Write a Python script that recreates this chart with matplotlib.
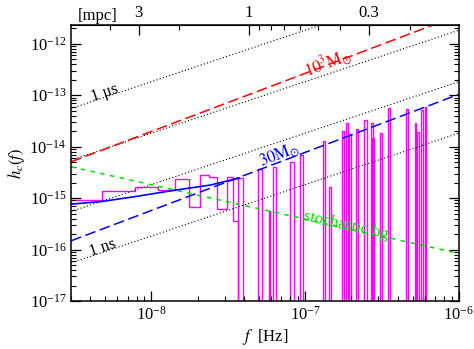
import numpy as np
import matplotlib
matplotlib.use('Agg')
import matplotlib.pyplot as plt
from matplotlib.ticker import LogLocator, NullFormatter

plt.rcParams['font.family'] = ['Liberation Serif', 'DejaVu Serif']
plt.rcParams['mathtext.fontset'] = 'stix'
plt.rcParams['font.size'] = 12

# frequency range of the straight reference lines
f_line = [3e-9, 1e-6]

# timing residual lines: 1 us, 100 ns, 10 ns, 1 ns
h_1us = [5.5e-14, 1.83e-11]
h_100ns = [5.5e-15, 1.83e-12]
h_10ns = [5.5e-16, 1.83e-13]
h_1ns = [5.5e-17, 1.83e-14]

# single binary amplitudes
h_1000msun = [5.07e-15, 3.57e-12]
h_30msun = [1.48e-16, 1.04e-13]

# stochastic background
h_bg = [4.06e-15, 8.4e-17]

# low-frequency upper limit (step histogram)
step_edges = [2.5e-9, 4.75e-9, 7.83e-9, 1.106e-8, 1.43e-8, 1.754e-8, 2.066e-8,
              2.366e-8, 2.68e-8, 3.11e-8, 3.39e-8, 3.68e-8]
step_h = [9.0e-16, 1.40e-15, 1.61e-15, 1.43e-15, 2.37e-15, 6.8e-16, 2.76e-15,
          2.52e-15, 6.1e-16, 2.52e-15, 3.57e-16]

# narrow frequency bins with limits
bar_lo = [3.68e-8, 4.91e-8, 5.78e-8, 6.14e-8, 8.01e-8, 9.21e-8, 1.30e-7, 1.42e-7,
          1.75e-7, 1.84e-7, 1.94e-7, 2.15e-7, 2.43e-7, 2.67e-7, 2.73e-7, 3.06e-7,
          3.47e-7, 4.56e-7, 5.16e-7, 5.36e-7, 5.69e-7, 5.98e-7]
bar_hi = [3.97e-8, 5.24e-8, 5.93e-8, 6.49e-8, 8.42e-8, 9.69e-8, 1.35e-7, 1.48e-7,
          1.80e-7, 1.89e-7, 2.00e-7, 2.21e-7, 2.51e-7, 2.75e-7, 2.81e-7, 3.15e-7,
          3.59e-7, 4.70e-7, 5.30e-7, 5.48e-7, 5.86e-7, 6.16e-7]
bar_h = [2.42e-15, 3.6e-15, 5.6e-16, 4.0e-15, 5.07e-15, 6.84e-15, 1.26e-14, 1.66e-15,
         2.0e-14, 2.9e-14, 1.75e-14, 2.19e-14, 3.27e-14, 2.82e-14, 1.48e-14, 1.85e-14,
         5.66e-14, 5.34e-14, 2.82e-14, 1.89e-14, 5.1e-14, 5.9e-14]

# blue solid curve
f_fit = [3.0e-9, 4.7e-9, 7.83e-9, 1.43e-8, 2.41e-8, 3.72e-8]
h_fit = [7.64e-16, 8.55e-16, 1.07e-15, 1.43e-15, 1.79e-15, 2.45e-15]

# top axis: orbital separation in mpc
f_1mpc = 4.29e-8
sep_major = [3, 1, 0.3]
sep_minor = [4, 2, 0.9, 0.8, 0.7, 0.6, 0.5, 0.4, 0.2]

fig = plt.figure(figsize=(4.74, 3.49), dpi=100)
ax = fig.add_axes([0.150, 0.1375, 0.818, 0.7905])

dot = (0, (1, 2))
for h in (h_1us, h_100ns, h_10ns, h_1ns):
    ax.plot(f_line, h, color='black', lw=0.8, ls=dot)

ax.plot(f_line, h_1000msun, color='red', lw=1.1, ls=(0, (7, 3)))
ax.plot(f_line, h_30msun, color='blue', lw=1.1, ls=(0, (7, 3)))
ax.plot(f_line, h_bg, color='#00e000', lw=1.1, ls=(0, (3, 3.5)))

ax.stairs(step_h, step_edges, baseline=1e-20, color='magenta', lw=1.0)
widths = np.array(bar_hi) - np.array(bar_lo)
ax.bar(bar_lo, np.array(bar_h) - 1e-20, width=widths, bottom=1e-20, align='edge',
       facecolor='none', edgecolor='magenta', lw=1.0)

ax.plot(f_fit, h_fit, color='blue', lw=1.2)

ax.set_xscale('log')
ax.set_yscale('log')
ax.set_xlim(3e-9, 1e-6)
ax.set_ylim(1e-17, 2.3e-12)

ax.text(4.99e-9, 1.09e-13, '1 \u03bcs', rotation=18.5, ha='center', va='center',
        rotation_mode='anchor')
ax.text(4.78e-9, 1.07e-16, '1 ns', rotation=18.5, ha='center', va='center',
        rotation_mode='anchor')
ax.text(1.40e-7, 4.38e-13, r'$10^3\mathrm{M}_{\odot}$', color='red', rotation=20.7,
        ha='center', va='center', rotation_mode='anchor')
ax.text(6.79e-8, 6.84e-15, r'$30\mathrm{M}_{\odot}$', color='blue', rotation=20.7,
        ha='center', va='center', rotation_mode='anchor')
ax.text(1.91e-7, 2.86e-16, 'stochastic bg.', color='#00e000', rotation=-12.6,
        ha='center', va='center', rotation_mode='anchor')

ax.set_xlabel(r'$f$  [Hz]', labelpad=2)
ax.set_ylabel(r'$h_c(f)$', labelpad=2)

ax.yaxis.set_major_locator(LogLocator(base=10, numticks=12))
ax.yaxis.set_minor_locator(LogLocator(base=10, subs=np.arange(2, 10), numticks=12))
ax.yaxis.set_minor_formatter(NullFormatter())
ax.xaxis.set_minor_formatter(NullFormatter())
ax.tick_params(which='both', direction='in', top=False, right=True)
ax.tick_params(which='major', length=7, width=0.9)
ax.tick_params(which='minor', length=3.5, width=0.8)
for s in ax.spines.values():
    s.set_linewidth(1.1)


def f2a(f):
    f = np.asarray(f, dtype=float)
    with np.errstate(divide='ignore', invalid='ignore'):
        return (f / f_1mpc) ** (-2.0 / 3.0)


def a2f(a):
    a = np.asarray(a, dtype=float)
    with np.errstate(divide='ignore', invalid='ignore'):
        return f_1mpc * a ** (-1.5)


top = ax.secondary_xaxis('top', functions=(f2a, a2f))
top.set_xticks(sep_major)
top.set_xticklabels([str(v) for v in sep_major])
top.set_xticks(sep_minor, minor=True)
top.xaxis.set_minor_formatter(NullFormatter())
top.tick_params(which='both', direction='in', pad=3)
top.tick_params(which='major', length=7, width=0.9)
top.tick_params(which='minor', length=3.5, width=0.8)
fig.text(0.207, 0.955, '[mpc]', ha='center', va='center')

fig.savefig('out.png', dpi=100, facecolor='white')
